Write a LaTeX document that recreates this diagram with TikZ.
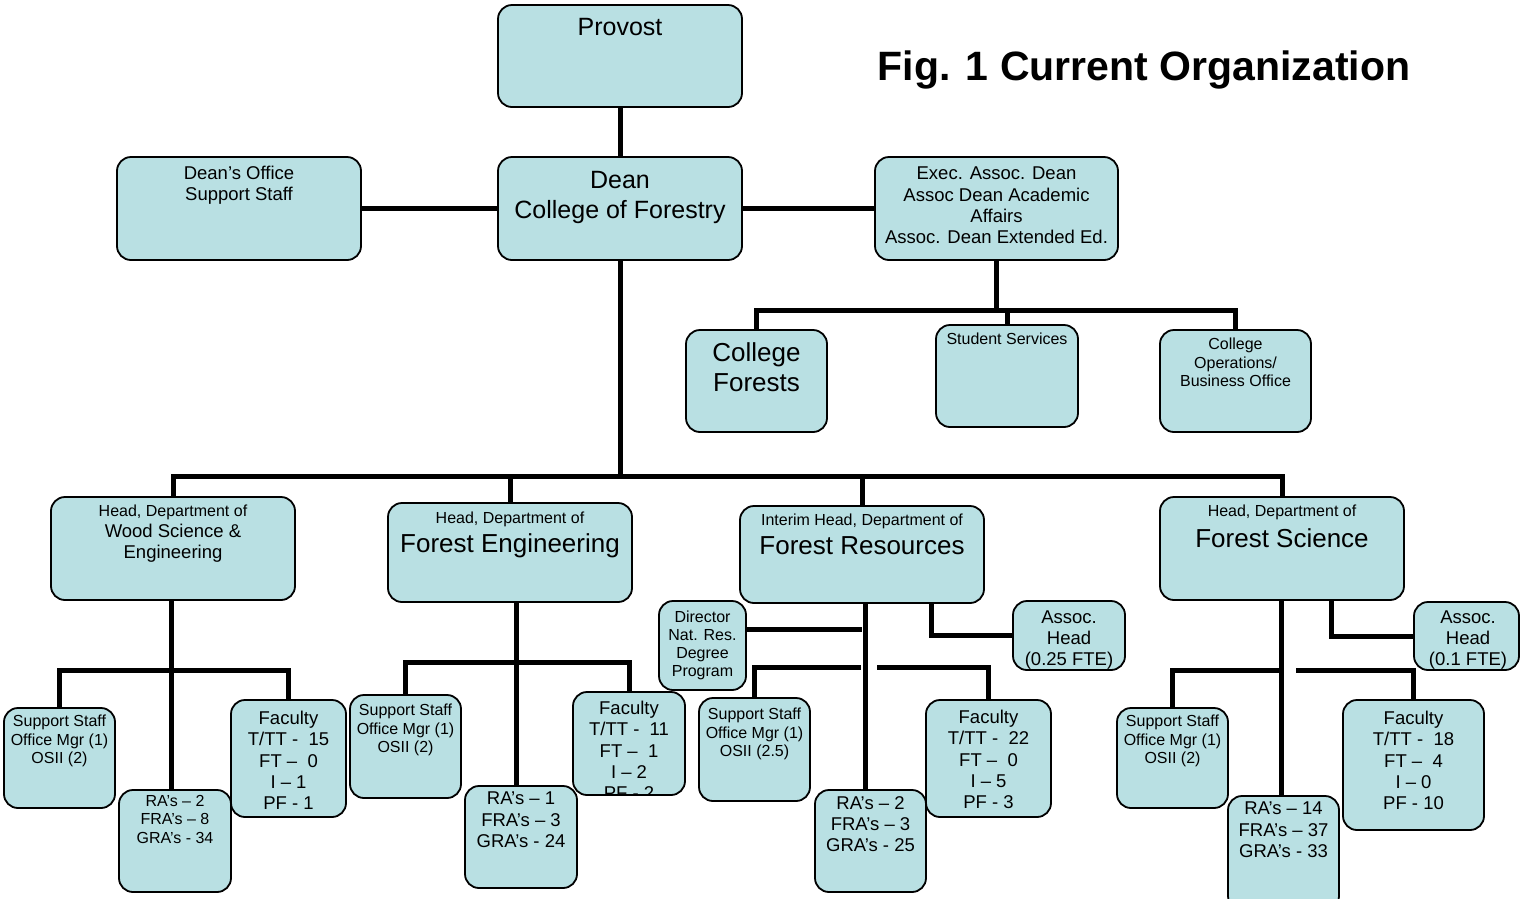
\documentclass[tikz,border=0pt]{standalone}
\usepackage{fontspec}
\setmainfont{Liberation Sans}
\usetikzlibrary{fit}
\definecolor{boxc}{RGB}{185,224,227}
\tikzset{
  box/.style={draw=black, line width=1.8pt, fill=boxc, rounded corners=14pt, inner sep=0pt},
  conn/.style={draw=black, line width=5pt},
  txt/.style={anchor=north, inner sep=0pt, align=center},
  ts/.style={font=\fontsize{16}{18.5}\selectfont},
  tm/.style={font=\fontsize{18.5}{21.3}\selectfont},
  tl/.style={font=\fontsize{25}{30}\selectfont},
  tx/.style={font=\fontsize{26}{30}\selectfont},
}
\begin{document}
\begin{tikzpicture}[x=1pt,y=-1pt]
\clip (0,0) rectangle (1521,898);
\fill[white] (0,0) rectangle (1521,898);

% ---- boxes ----
\node[box, fit={(498,5) (742,107)}] (provost) {};
\node[box, fit={(498,157) (742,260)}] (dean) {};
\node[box, fit={(117,157) (361,260)}] (dos) {};
\node[box, fit={(875,157) (1118,260)}] (exec) {};
\node[box, fit={(686,330) (827,432)}] (cforests) {};
\node[box, fit={(936,325) (1078,427)}] (sserv) {};
\node[box, fit={(1160,330) (1311,432)}] (cops) {};

\node[box, fit={(51,497) (295,600)}] (wse) {};
\node[box, fit={(388,503) (632,602)}] (fe) {};
\node[box, fit={(740,506) (984,603)}] (fr) {};
\node[box, fit={(1160,497) (1404,600)}] (fs) {};

\node[box, fit={(4,708) (115,808)}] (wse-ss) {};
\node[box, fit={(119,790) (231,892)}] (wse-ra) {};
\node[box, fit={(231,700) (346,817)}] (wse-fac) {};

\node[box, fit={(350,695) (461,798)}] (fe-ss) {};
\node[box, fit={(465,786) (577,888)}] (fe-ra) {};
\node[box, fit={(573,692) (685,795)}] (fe-fac) {};

\node[box, fit={(659,601) (746,690)}] (fr-dir) {};
\node[box, fit={(1013,601) (1125,670)}] (fr-ah) {};
\node[box, fit={(699,698) (810,801)}] (fr-ss) {};
\node[box, fit={(815,790) (926,892)}] (fr-ra) {};
\node[box, fit={(926,700) (1051,817)}] (fr-fac) {};

\node[box, fit={(1414,602) (1519,670)}] (fs-ah) {};
\node[box, fit={(1117,708) (1228,808)}] (fs-ss) {};
\node[box, fit={(1228,796) (1339,910)}] (fs-ra) {};
\node[box, fit={(1343,700) (1484,830)}] (fs-fac) {};

% ---- texts ----
\node[txt, tl] (provost-t) at (620,18) {Provost};
\node[txt, tl] (dean-t) at (620,171) {Dean\\College of Forestry};
\node[txt, tm] (dos-t) at (239,166) {Dean's Office\\Support Staff};
\node[txt, tm] (exec-t) at (996.5,167) {Exec. Assoc. Dean\\Assoc Dean Academic\\Affairs\\Assoc. Dean Extended Ed.};
\node[txt, tx] (cforests-t) at (756.5,342) {College\\Forests};
\node[txt, ts] (sserv-t) at (1007,333) {Student Services};
\node[txt, ts] (cops-t) at (1235.5,338) {College\\Operations/\\Business Office};

\node[font=\bfseries\fontsize{41}{48}\selectfont, inner sep=0pt] (title) at (1144,70) {Fig. 1 Current Organization};

\node[txt, ts] (wse-h) at (173,505) {Head, Department of};
\node[txt, tm] (wse-t) at (173,524) {Wood Science \&\\Engineering};
\node[txt, ts] (fe-h) at (510,512) {Head, Department of};
\node[txt, tx] (fe-t) at (510,533) {Forest Engineering};
\node[txt, ts] (fr-h) at (862,514) {Interim Head, Department of};
\node[txt, tx] (fr-t) at (862,536) {Forest Resources};
\node[txt, ts] (fs-h) at (1282,505) {Head, Department of};
\node[txt, tx] (fs-t) at (1282,528) {Forest Science};

\node[txt, ts] (wse-ss-t) at (59.5,715) {Support Staff\\Office Mgr (1)\\OSII (2)};
\node[txt, ts] (wse-ra-t) at (175,795) {RA's – 2\\FRA's – 8\\GRA's - 34};
\node[txt, tm] (wse-fac-t) at (288.5,711) {Faculty\\T/TT - ~15\\FT – ~0\\I – 1\\PF - 1};

\node[txt, ts] (fe-ss-t) at (405.5,704) {Support Staff\\Office Mgr (1)\\OSII (2)};
\node[txt, tm] (fe-ra-t) at (521,792) {RA's – 1\\FRA's – 3\\GRA's - 24};
\begin{scope}
\clip ([xshift=2pt,yshift=-2pt]fe-fac.north west) rectangle ([xshift=-2pt,yshift=1.5pt]fe-fac.south east);
\node[txt, tm] (fe-fac-t) at (629,701) {Faculty\\T/TT - ~11\\FT – ~1\\I – 2\\PF - 2};
\end{scope}

\node[txt, ts, font=\fontsize{16}{18}\selectfont] (fr-dir-t) at (702.5,611) {Director\\Nat. Res.\\Degree\\Program};
\node[txt, tm, font=\fontsize{18.5}{21}\selectfont] (fr-ah-t) at (1069,611) {Assoc.\\Head\\(0.25 FTE)};
\node[txt, ts] (fr-ss-t) at (754.5,708) {Support Staff\\Office Mgr (1)\\OSII (2.5)};
\node[txt, tm] (fr-ra-t) at (870.5,796) {RA's – 2\\FRA's – 3\\GRA's - 25};
\node[txt, tm] (fr-fac-t) at (988.5,710) {Faculty\\T/TT - ~22\\FT – ~0\\I – 5\\PF - 3};

\node[txt, tm, font=\fontsize{18.5}{21}\selectfont] (fs-ah-t) at (1468,611) {Assoc.\\Head\\(0.1 FTE)};
\node[txt, ts] (fs-ss-t) at (1172.5,715) {Support Staff\\Office Mgr (1)\\OSII (2)};
\node[txt, tm] (fs-ra-t) at (1283.5,802) {RA's – 14\\FRA's – 37\\GRA's - 33};
\node[txt, tm] (fs-fac-t) at (1413.5,711) {Faculty\\T/TT - ~18\\FT – ~4\\I – 0\\PF - 10};

% ---- connectors ----
\draw[conn] (provost.south) -- (dean.north);
\draw[conn] (dos.east) -- (dean.west);
\draw[conn] (dean.east) -- (exec.east -| exec.west);

\coordinate (ej) at (996.5,310);
\draw[conn] (exec.south) -- (ej);
\draw[conn] (cforests.north) |- (ej) -| (cops.north);
\draw[conn] (sserv.north) -- (sserv.north |- ej);

\coordinate (bus) at (620,476);
\draw[conn] (dean.south) -- (bus);
\draw[conn] (wse.north) |- (bus) -| (fs.north);
\draw[conn] (fe.north) -- (fe.north |- bus);
\draw[conn] (fr.north) -- (fr.north |- bus);

% WSE
\coordinate (wj) at (171,670);
\draw[conn] (wj |- wse.south) -- (wj |- wse-ra.north);
\draw[conn] (wse-ss.north) |- (wj) -| (wse-fac.north);

% FE
\coordinate (fj) at (516,662);
\draw[conn] (fj |- fe.south) -- (fj |- fe-ra.north);
\draw[conn] (fe-ss.north) |- (fj) -| (fe-fac.north);

% FR
\coordinate (rj) at (865,667);
\coordinate (dj) at (862,629);
\draw[conn] (rj |- fr.south) -- (rj |- fr-ra.north);
\draw[conn] (fr-dir.east |- dj) -- (dj);
\draw[conn] (fr-ah.west) -| ([xshift=69pt]fr.south);
\coordinate (rjl) at (861,667);
\coordinate (rjr) at (877,667);
\draw[conn] (fr-ss.north) |- (rjl);
\draw[conn] (rjr) -| (fr-fac.north);

% FS
\coordinate (sj) at (1281,670);
\coordinate (sjr) at (1296,670);
\draw[conn] (sj |- fs.south) -- (sj |- fs-ra.north);
\draw[conn] (fs-ah.west) -| ([xshift=49pt]fs.south);
\draw[conn] (fs-ss.north) |- (sj);
\draw[conn] (sjr) -| (fs-fac.north);
\end{tikzpicture}
\end{document}
